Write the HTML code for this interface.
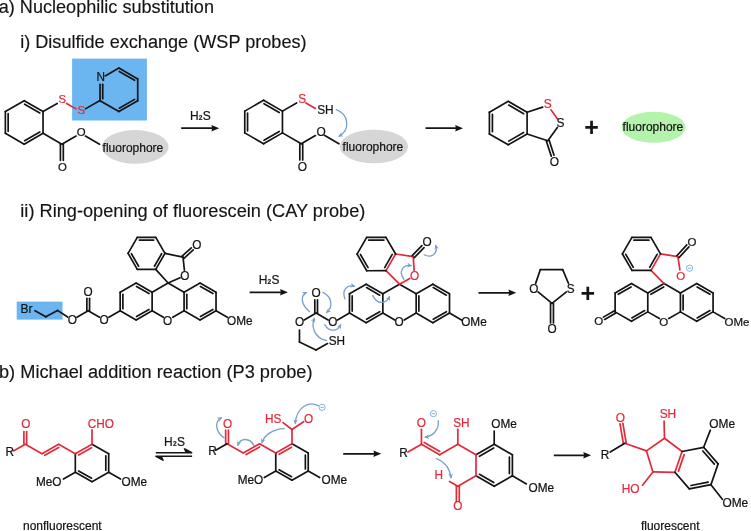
<!DOCTYPE html>
<html lang="en">
<head>
<meta charset="utf-8">
<title>H2S fluorescent probe reaction mechanisms</title>
<style>
html,body{margin:0;padding:0;background:#fff;}
body{width:751px;height:531px;overflow:hidden;font-family:"Liberation Sans",Arial,Helvetica,sans-serif;}
svg{display:block;will-change:transform;}
text{white-space:pre;}
</style>
</head>
<body>
<svg width="751" height="531" viewBox="0 0 751 531" font-family="'Liberation Sans', Arial, Helvetica, sans-serif">
<text transform="translate(-1.3 13.4) scale(1 1.01)" font-size="18.1" fill="#141414" stroke="#141414" stroke-width="0.15">a) Nucleophilic substitution</text>
<text transform="translate(20.2 48.1) scale(1 1.01)" font-size="18.1" fill="#141414" stroke="#141414" stroke-width="0.15">i) Disulfide exchange (WSP probes)</text>
<text transform="translate(20.3 216.8) scale(1 1.01)" font-size="18.2" fill="#141414" stroke="#141414" stroke-width="0.15">ii) Ring-opening of fluorescein (CAY probe)</text>
<text transform="translate(-1 377.5) scale(1 1.01)" font-size="18.2" fill="#141414" stroke="#141414" stroke-width="0.15">b) Michael addition reaction (P3 probe)</text>
<rect x="72.1" y="58.6" width="74.8" height="61.9" fill="#6bb6f1"/>
<ellipse cx="135.2" cy="146.9" rx="33.4" ry="16.8" fill="#d6d6d6"/>
<ellipse cx="374" cy="146.5" rx="34" ry="16.8" fill="#d6d6d6"/>
<ellipse cx="653.6" cy="127.3" rx="32" ry="15.5" fill="#b4f3ac"/>
<line x1="24.2" y1="100.7" x2="5.36" y2="111.58" stroke="#141414" stroke-width="1.7" stroke-linecap="round"/>
<line x1="43.04" y1="111.58" x2="43.04" y2="133.32" stroke="#141414" stroke-width="1.7" stroke-linecap="round"/>
<line x1="24.2" y1="144.2" x2="5.36" y2="133.32" stroke="#141414" stroke-width="1.7" stroke-linecap="round"/>
<line x1="24.2" y1="100.7" x2="43.04" y2="111.58" stroke="#141414" stroke-width="1.7" stroke-linecap="round"/>
<line x1="24.62" y1="104.17" x2="39.82" y2="112.95" stroke="#141414" stroke-width="1.7" stroke-linecap="round"/>
<line x1="43.04" y1="133.32" x2="24.2" y2="144.2" stroke="#141414" stroke-width="1.7" stroke-linecap="round"/>
<line x1="39.82" y1="131.95" x2="24.62" y2="140.73" stroke="#141414" stroke-width="1.7" stroke-linecap="round"/>
<line x1="5.36" y1="133.32" x2="5.36" y2="111.58" stroke="#141414" stroke-width="1.7" stroke-linecap="round"/>
<line x1="8.16" y1="131.22" x2="8.16" y2="113.67" stroke="#141414" stroke-width="1.7" stroke-linecap="round"/>
<line x1="43.04" y1="133.32" x2="61.87" y2="144.2" stroke="#141414" stroke-width="1.7" stroke-linecap="round"/>
<line x1="61.87" y1="144.2" x2="76.03" y2="136.02" stroke="#141414" stroke-width="1.7" stroke-linecap="round"/>
<line x1="60.42" y1="144.2" x2="60.42" y2="160.35" stroke="#141414" stroke-width="1.7" stroke-linecap="round"/>
<line x1="63.32" y1="144.2" x2="63.32" y2="160.35" stroke="#141414" stroke-width="1.7" stroke-linecap="round"/>
<line x1="85.38" y1="136.02" x2="99.54" y2="144.2" stroke="#141414" stroke-width="1.7" stroke-linecap="round"/>
<text transform="translate(76.77 135.99) scale(1 1.01)" font-size="11.4" fill="#141414" stroke="#141414" stroke-width="0.22">O</text>
<text transform="translate(57.94 171.42) scale(1 1.01)" font-size="11.4" fill="#141414" stroke="#141414" stroke-width="0.22">O</text>
<line x1="43.04" y1="111.58" x2="57.2" y2="103.4" stroke="#141414" stroke-width="1.7" stroke-linecap="round"/>
<line x1="66.55" y1="103.4" x2="76.03" y2="108.88" stroke="#e22a3a" stroke-width="1.7" stroke-linecap="round"/>
<line x1="85.38" y1="108.88" x2="99.54" y2="100.7" stroke="#141414" stroke-width="1.7" stroke-linecap="round"/>
<text transform="translate(58.57 103.37) scale(1 1.01)" font-size="11.4" fill="#e22a3a" stroke="#e22a3a" stroke-width="0.22">S</text>
<text transform="translate(77.41 114.24) scale(1 1.01)" font-size="11.4" fill="#e22a3a" stroke="#e22a3a" stroke-width="0.22">S</text>
<line x1="100.04" y1="84.35" x2="100.04" y2="100.7" stroke="#141414" stroke-width="1.7" stroke-linecap="round"/>
<line x1="102.74" y1="84.35" x2="102.74" y2="98.67" stroke="#141414" stroke-width="1.7" stroke-linecap="round"/>
<line x1="105.24" y1="75.95" x2="118.88" y2="68.08" stroke="#141414" stroke-width="1.7" stroke-linecap="round"/>
<line x1="118.88" y1="68.08" x2="137.72" y2="78.95" stroke="#141414" stroke-width="1.7" stroke-linecap="round"/>
<line x1="119.28" y1="71.43" x2="134.61" y2="80.28" stroke="#141414" stroke-width="1.7" stroke-linecap="round"/>
<line x1="137.72" y1="78.95" x2="137.72" y2="100.7" stroke="#141414" stroke-width="1.7" stroke-linecap="round"/>
<line x1="137.72" y1="100.7" x2="118.88" y2="111.58" stroke="#141414" stroke-width="1.7" stroke-linecap="round"/>
<line x1="134.61" y1="99.37" x2="119.28" y2="108.22" stroke="#141414" stroke-width="1.7" stroke-linecap="round"/>
<line x1="118.88" y1="111.58" x2="100.04" y2="100.7" stroke="#141414" stroke-width="1.7" stroke-linecap="round"/>
<text transform="translate(96.48 80.76) scale(1 1.01)" font-size="11.8" fill="#141414" stroke="#141414" stroke-width="0.22">N</text>
<text transform="translate(102.6 151.5) scale(1 1.01)" font-size="12" fill="#141414" stroke="#141414" stroke-width="0.22">fluorophore</text>
<line x1="181.2" y1="128.2" x2="214.52" y2="128.2" stroke="#141414" stroke-width="1.8"/>
<path d="M219.2 128.2 L211.4 125 L212.18 128.2 L211.4 131.4 Z" fill="#141414"/>
<text transform="translate(190 119.5) scale(1 1.01)" font-size="12" fill="#141414" stroke="#141414" stroke-width="0.22">H<tspan font-size="6.6" font-weight="bold" dx="0.2" dy="0.2">2</tspan><tspan dx="0.3" dy="-0.2">S</tspan></text>
<line x1="263.6" y1="100.25" x2="244.76" y2="111.12" stroke="#141414" stroke-width="1.7" stroke-linecap="round"/>
<line x1="282.44" y1="111.12" x2="282.44" y2="132.88" stroke="#141414" stroke-width="1.7" stroke-linecap="round"/>
<line x1="263.6" y1="143.75" x2="244.76" y2="132.88" stroke="#141414" stroke-width="1.7" stroke-linecap="round"/>
<line x1="263.6" y1="100.25" x2="282.44" y2="111.12" stroke="#141414" stroke-width="1.7" stroke-linecap="round"/>
<line x1="264.02" y1="103.72" x2="279.22" y2="112.5" stroke="#141414" stroke-width="1.7" stroke-linecap="round"/>
<line x1="282.44" y1="132.88" x2="263.6" y2="143.75" stroke="#141414" stroke-width="1.7" stroke-linecap="round"/>
<line x1="279.22" y1="131.5" x2="264.02" y2="140.28" stroke="#141414" stroke-width="1.7" stroke-linecap="round"/>
<line x1="244.76" y1="132.88" x2="244.76" y2="111.12" stroke="#141414" stroke-width="1.7" stroke-linecap="round"/>
<line x1="247.56" y1="130.78" x2="247.56" y2="113.22" stroke="#141414" stroke-width="1.7" stroke-linecap="round"/>
<line x1="282.44" y1="132.88" x2="301.27" y2="143.75" stroke="#141414" stroke-width="1.7" stroke-linecap="round"/>
<line x1="301.27" y1="143.75" x2="315.43" y2="135.57" stroke="#141414" stroke-width="1.7" stroke-linecap="round"/>
<line x1="299.82" y1="143.75" x2="299.82" y2="159.9" stroke="#141414" stroke-width="1.7" stroke-linecap="round"/>
<line x1="302.72" y1="143.75" x2="302.72" y2="159.9" stroke="#141414" stroke-width="1.7" stroke-linecap="round"/>
<line x1="324.78" y1="135.57" x2="338.94" y2="143.75" stroke="#141414" stroke-width="1.7" stroke-linecap="round"/>
<text transform="translate(316.48 135.62) scale(1 1.01)" font-size="11.9" fill="#141414" stroke="#141414" stroke-width="0.22">O</text>
<text transform="translate(297.64 171.04) scale(1 1.01)" font-size="11.9" fill="#141414" stroke="#141414" stroke-width="0.22">O</text>
<line x1="282.44" y1="111.12" x2="296.6" y2="102.95" stroke="#141414" stroke-width="1.7" stroke-linecap="round"/>
<line x1="305.95" y1="102.95" x2="315.43" y2="108.42" stroke="#e22a3a" stroke-width="1.7" stroke-linecap="round"/>
<text transform="translate(298.3 102.99) scale(1 1.01)" font-size="11.9" fill="#e22a3a" stroke="#e22a3a" stroke-width="0.22">S</text>
<text transform="translate(317.14 113.87) scale(1 1.01)" font-size="11.9" fill="#141414" stroke="#141414" stroke-width="0.22">SH</text>
<text transform="translate(342.6 151.3) scale(1 1.01)" font-size="12" fill="#141414" stroke="#141414" stroke-width="0.22">fluorophore</text>
<path d="M336.2 109.6 C349.5 114.5 350 130 339.2 136.2" fill="none" stroke="#7a9fca" stroke-width="1.3" stroke-linecap="round"/>
<path d="M338.16 136.8 L341.35 132.31 L341.19 135.05 L343.64 136.3 Z" fill="#7a9fca"/>
<line x1="425.5" y1="128.2" x2="458.32" y2="128.2" stroke="#141414" stroke-width="1.8"/>
<path d="M463 128.2 L455.2 125 L455.98 128.2 L455.2 131.4 Z" fill="#141414"/>
<line x1="508.25" y1="101.35" x2="489.41" y2="112.22" stroke="#141414" stroke-width="1.7" stroke-linecap="round"/>
<line x1="527.09" y1="112.22" x2="527.09" y2="133.97" stroke="#141414" stroke-width="1.7" stroke-linecap="round"/>
<line x1="508.25" y1="144.85" x2="489.41" y2="133.97" stroke="#141414" stroke-width="1.7" stroke-linecap="round"/>
<line x1="508.25" y1="101.35" x2="527.09" y2="112.22" stroke="#141414" stroke-width="1.7" stroke-linecap="round"/>
<line x1="508.7" y1="105.07" x2="523.64" y2="113.7" stroke="#141414" stroke-width="1.7" stroke-linecap="round"/>
<line x1="527.09" y1="133.97" x2="508.25" y2="144.85" stroke="#141414" stroke-width="1.7" stroke-linecap="round"/>
<line x1="523.64" y1="132.5" x2="508.7" y2="141.13" stroke="#141414" stroke-width="1.7" stroke-linecap="round"/>
<line x1="489.41" y1="133.97" x2="489.41" y2="112.22" stroke="#141414" stroke-width="1.7" stroke-linecap="round"/>
<line x1="492.41" y1="131.72" x2="492.41" y2="114.47" stroke="#141414" stroke-width="1.7" stroke-linecap="round"/>
<line x1="527.09" y1="133.97" x2="547.77" y2="140.7" stroke="#141414" stroke-width="1.7" stroke-linecap="round"/>
<line x1="547.77" y1="140.7" x2="557.38" y2="127.47" stroke="#141414" stroke-width="1.7" stroke-linecap="round"/>
<line x1="557.38" y1="118.73" x2="550.95" y2="109.87" stroke="#e22a3a" stroke-width="1.7" stroke-linecap="round"/>
<line x1="542.64" y1="107.17" x2="527.09" y2="112.22" stroke="#141414" stroke-width="1.7" stroke-linecap="round"/>
<line x1="546.39" y1="141.14" x2="551.26" y2="156.12" stroke="#141414" stroke-width="1.7" stroke-linecap="round"/>
<line x1="549.15" y1="140.25" x2="554.02" y2="155.23" stroke="#141414" stroke-width="1.7" stroke-linecap="round"/>
<text transform="translate(543.8 108.05) scale(1 1.01)" font-size="11.9" fill="#e22a3a" stroke="#e22a3a" stroke-width="0.22">S</text>
<text transform="translate(556.59 127.24) scale(1 1.01)" font-size="11.9" fill="#141414" stroke="#141414" stroke-width="0.22">S</text>
<text transform="translate(549.86 166.02) scale(1 1.01)" font-size="11.9" fill="#141414" stroke="#141414" stroke-width="0.22">O</text>
<text transform="translate(591.5 135.5) scale(1 1)" font-size="25" fill="#141414" text-anchor="middle" font-weight="bold">+</text>
<text transform="translate(622.6 131) scale(1 1.01)" font-size="12" fill="#141414" stroke="#141414" stroke-width="0.22">fluorophore</text>
<rect x="16.7" y="301.6" width="45.8" height="18" fill="#6bb6f1"/>
<line x1="168.1" y1="283.05" x2="184.08" y2="292.27" stroke="#141414" stroke-width="1.7" stroke-linecap="round"/>
<line x1="184.08" y1="310.73" x2="172.78" y2="317.25" stroke="#141414" stroke-width="1.7" stroke-linecap="round"/>
<line x1="163.42" y1="317.25" x2="152.12" y2="310.73" stroke="#141414" stroke-width="1.7" stroke-linecap="round"/>
<line x1="152.12" y1="292.27" x2="168.1" y2="283.05" stroke="#141414" stroke-width="1.7" stroke-linecap="round"/>
<line x1="200.06" y1="283.05" x2="216.03" y2="292.27" stroke="#141414" stroke-width="1.7" stroke-linecap="round"/>
<line x1="200.46" y1="286.4" x2="212.93" y2="293.6" stroke="#141414" stroke-width="1.7" stroke-linecap="round"/>
<line x1="216.03" y1="292.27" x2="216.03" y2="310.73" stroke="#141414" stroke-width="1.7" stroke-linecap="round"/>
<line x1="216.03" y1="310.73" x2="200.06" y2="319.95" stroke="#141414" stroke-width="1.7" stroke-linecap="round"/>
<line x1="212.93" y1="309.4" x2="200.46" y2="316.6" stroke="#141414" stroke-width="1.7" stroke-linecap="round"/>
<line x1="200.06" y1="319.95" x2="184.08" y2="310.73" stroke="#141414" stroke-width="1.7" stroke-linecap="round"/>
<line x1="184.08" y1="310.73" x2="184.08" y2="292.27" stroke="#141414" stroke-width="1.7" stroke-linecap="round"/>
<line x1="186.78" y1="308.7" x2="186.78" y2="294.3" stroke="#141414" stroke-width="1.7" stroke-linecap="round"/>
<line x1="184.08" y1="292.27" x2="200.06" y2="283.05" stroke="#141414" stroke-width="1.7" stroke-linecap="round"/>
<line x1="136.14" y1="283.05" x2="152.12" y2="292.27" stroke="#141414" stroke-width="1.7" stroke-linecap="round"/>
<line x1="136.55" y1="286.4" x2="149.02" y2="293.6" stroke="#141414" stroke-width="1.7" stroke-linecap="round"/>
<line x1="152.12" y1="292.27" x2="152.12" y2="310.73" stroke="#141414" stroke-width="1.7" stroke-linecap="round"/>
<line x1="152.12" y1="310.73" x2="136.14" y2="319.95" stroke="#141414" stroke-width="1.7" stroke-linecap="round"/>
<line x1="149.02" y1="309.4" x2="136.55" y2="316.6" stroke="#141414" stroke-width="1.7" stroke-linecap="round"/>
<line x1="136.14" y1="319.95" x2="120.17" y2="310.73" stroke="#141414" stroke-width="1.7" stroke-linecap="round"/>
<line x1="120.17" y1="310.73" x2="120.17" y2="292.27" stroke="#141414" stroke-width="1.7" stroke-linecap="round"/>
<line x1="122.87" y1="308.7" x2="122.87" y2="294.3" stroke="#141414" stroke-width="1.7" stroke-linecap="round"/>
<line x1="120.17" y1="292.27" x2="136.14" y2="283.05" stroke="#141414" stroke-width="1.7" stroke-linecap="round"/>
<text transform="translate(163.11 325.16) scale(1 1.01)" font-size="11.8" fill="#141414" stroke="#141414" stroke-width="0.22">O</text>
<line x1="216.03" y1="310.73" x2="227.34" y2="317.25" stroke="#141414" stroke-width="1.7" stroke-linecap="round"/>
<text transform="translate(227.02 325.16) scale(1 1.01)" font-size="11.8" fill="#141414" stroke="#141414" stroke-width="0.22">OMe</text>
<line x1="168.1" y1="283.05" x2="180.02" y2="277.74" stroke="#141414" stroke-width="1.7" stroke-linecap="round"/>
<line x1="184.39" y1="270.18" x2="183.03" y2="257.2" stroke="#141414" stroke-width="1.7" stroke-linecap="round"/>
<line x1="183.03" y1="257.2" x2="164.98" y2="253.36" stroke="#141414" stroke-width="1.7" stroke-linecap="round"/>
<line x1="155.75" y1="269.34" x2="168.1" y2="283.05" stroke="#141414" stroke-width="1.7" stroke-linecap="round"/>
<line x1="184" y1="258.27" x2="193.25" y2="249.94" stroke="#141414" stroke-width="1.7" stroke-linecap="round"/>
<line x1="182.06" y1="256.12" x2="191.31" y2="247.79" stroke="#141414" stroke-width="1.7" stroke-linecap="round"/>
<text transform="translate(192.15 248.96) scale(1 1.01)" font-size="11.8" fill="#141414" stroke="#141414" stroke-width="0.22">O</text>
<text transform="translate(180.36 279.65) scale(1 1.01)" font-size="11.8" fill="#141414" stroke="#141414" stroke-width="0.22">O</text>
<line x1="164.98" y1="253.36" x2="155.75" y2="269.34" stroke="#141414" stroke-width="1.7" stroke-linecap="round"/>
<line x1="161.63" y1="253.76" x2="154.43" y2="266.24" stroke="#141414" stroke-width="1.7" stroke-linecap="round"/>
<line x1="155.75" y1="269.34" x2="137.3" y2="269.34" stroke="#141414" stroke-width="1.7" stroke-linecap="round"/>
<line x1="137.3" y1="269.34" x2="128.08" y2="253.36" stroke="#141414" stroke-width="1.7" stroke-linecap="round"/>
<line x1="138.63" y1="266.24" x2="131.43" y2="253.76" stroke="#141414" stroke-width="1.7" stroke-linecap="round"/>
<line x1="128.08" y1="253.36" x2="137.3" y2="237.38" stroke="#141414" stroke-width="1.7" stroke-linecap="round"/>
<line x1="137.3" y1="237.38" x2="155.75" y2="237.38" stroke="#141414" stroke-width="1.7" stroke-linecap="round"/>
<line x1="139.33" y1="240.08" x2="153.73" y2="240.08" stroke="#141414" stroke-width="1.7" stroke-linecap="round"/>
<line x1="155.75" y1="237.38" x2="164.98" y2="253.36" stroke="#141414" stroke-width="1.7" stroke-linecap="round"/>
<line x1="120.17" y1="310.73" x2="108.86" y2="317.25" stroke="#141414" stroke-width="1.7" stroke-linecap="round"/>
<line x1="99.51" y1="317.25" x2="88.21" y2="310.73" stroke="#141414" stroke-width="1.7" stroke-linecap="round"/>
<line x1="89.56" y1="310.73" x2="89.56" y2="298.28" stroke="#141414" stroke-width="1.7" stroke-linecap="round"/>
<line x1="86.86" y1="310.73" x2="86.86" y2="298.28" stroke="#141414" stroke-width="1.7" stroke-linecap="round"/>
<line x1="88.21" y1="310.73" x2="76.91" y2="317.25" stroke="#141414" stroke-width="1.7" stroke-linecap="round"/>
<text transform="translate(99.6 324.06) scale(1 1.01)" font-size="11.8" fill="#141414" stroke="#141414" stroke-width="0.22">O</text>
<text transform="translate(83.62 296.38) scale(1 1.01)" font-size="11.8" fill="#141414" stroke="#141414" stroke-width="0.22">O</text>
<text transform="translate(67.64 324.06) scale(1 1.01)" font-size="11.8" fill="#141414" stroke="#141414" stroke-width="0.22">O</text>
<line x1="67.7" y1="317.01" x2="57.5" y2="310.4" stroke="#141414" stroke-width="1.7" stroke-linecap="round"/>
<line x1="57.5" y1="310.4" x2="45.8" y2="316.8" stroke="#141414" stroke-width="1.7" stroke-linecap="round"/>
<line x1="45.8" y1="316.8" x2="35" y2="310.7" stroke="#141414" stroke-width="1.7" stroke-linecap="round"/>
<text transform="translate(20.6 313.2) scale(1 1.01)" font-size="12" fill="#141414" stroke="#141414" stroke-width="0.22">Br</text>
<line x1="249.6" y1="292.3" x2="283.22" y2="292.3" stroke="#141414" stroke-width="1.8"/>
<path d="M287.9 292.3 L280.1 289.1 L280.88 292.3 L280.1 295.5 Z" fill="#141414"/>
<text transform="translate(258.7 283.6) scale(1 1.01)" font-size="12" fill="#141414" stroke="#141414" stroke-width="0.22">H<tspan font-size="6.6" font-weight="bold" dx="0.2" dy="0.2">2</tspan><tspan dx="0.3" dy="-0.2">S</tspan></text>
<line x1="399.5" y1="284.2" x2="416.17" y2="293.82" stroke="#141414" stroke-width="1.7" stroke-linecap="round"/>
<line x1="416.17" y1="313.07" x2="404.18" y2="320" stroke="#141414" stroke-width="1.7" stroke-linecap="round"/>
<line x1="394.82" y1="320" x2="382.83" y2="313.07" stroke="#141414" stroke-width="1.7" stroke-linecap="round"/>
<line x1="382.83" y1="293.82" x2="399.5" y2="284.2" stroke="#141414" stroke-width="1.7" stroke-linecap="round"/>
<line x1="432.84" y1="284.2" x2="449.51" y2="293.82" stroke="#141414" stroke-width="1.7" stroke-linecap="round"/>
<line x1="433.25" y1="287.55" x2="446.41" y2="295.15" stroke="#141414" stroke-width="1.7" stroke-linecap="round"/>
<line x1="449.51" y1="293.82" x2="449.51" y2="313.07" stroke="#141414" stroke-width="1.7" stroke-linecap="round"/>
<line x1="449.51" y1="313.07" x2="432.84" y2="322.7" stroke="#141414" stroke-width="1.7" stroke-linecap="round"/>
<line x1="446.41" y1="311.75" x2="433.25" y2="319.35" stroke="#141414" stroke-width="1.7" stroke-linecap="round"/>
<line x1="432.84" y1="322.7" x2="416.17" y2="313.07" stroke="#141414" stroke-width="1.7" stroke-linecap="round"/>
<line x1="416.17" y1="313.07" x2="416.17" y2="293.82" stroke="#141414" stroke-width="1.7" stroke-linecap="round"/>
<line x1="418.87" y1="311.05" x2="418.87" y2="295.85" stroke="#141414" stroke-width="1.7" stroke-linecap="round"/>
<line x1="416.17" y1="293.82" x2="432.84" y2="284.2" stroke="#141414" stroke-width="1.7" stroke-linecap="round"/>
<line x1="366.16" y1="284.2" x2="382.83" y2="293.82" stroke="#141414" stroke-width="1.7" stroke-linecap="round"/>
<line x1="366.56" y1="287.55" x2="379.73" y2="295.15" stroke="#141414" stroke-width="1.7" stroke-linecap="round"/>
<line x1="382.83" y1="293.82" x2="382.83" y2="313.07" stroke="#141414" stroke-width="1.7" stroke-linecap="round"/>
<line x1="382.83" y1="313.07" x2="366.16" y2="322.7" stroke="#141414" stroke-width="1.7" stroke-linecap="round"/>
<line x1="379.73" y1="311.75" x2="366.56" y2="319.35" stroke="#141414" stroke-width="1.7" stroke-linecap="round"/>
<line x1="366.16" y1="322.7" x2="349.49" y2="313.07" stroke="#141414" stroke-width="1.7" stroke-linecap="round"/>
<line x1="349.49" y1="313.07" x2="349.49" y2="293.82" stroke="#141414" stroke-width="1.7" stroke-linecap="round"/>
<line x1="352.19" y1="311.05" x2="352.19" y2="295.85" stroke="#141414" stroke-width="1.7" stroke-linecap="round"/>
<line x1="349.49" y1="293.82" x2="366.16" y2="284.2" stroke="#141414" stroke-width="1.7" stroke-linecap="round"/>
<text transform="translate(394.51 326.01) scale(1 1.01)" font-size="11.8" fill="#141414" stroke="#141414" stroke-width="0.22">O</text>
<line x1="449.51" y1="313.07" x2="461.51" y2="320" stroke="#141414" stroke-width="1.7" stroke-linecap="round"/>
<text transform="translate(461.19 326.01) scale(1 1.01)" font-size="11.8" fill="#141414" stroke="#141414" stroke-width="0.22">OMe</text>
<line x1="399.5" y1="284.2" x2="409.79" y2="278.44" stroke="#e22a3a" stroke-width="1.7" stroke-linecap="round"/>
<line x1="414.15" y1="270.41" x2="413.25" y2="256.7" stroke="#e22a3a" stroke-width="1.7" stroke-linecap="round"/>
<line x1="413.25" y1="256.7" x2="395.6" y2="254" stroke="#e22a3a" stroke-width="1.7" stroke-linecap="round"/>
<line x1="386" y1="270.7" x2="399.5" y2="284.2" stroke="#e22a3a" stroke-width="1.7" stroke-linecap="round"/>
<line x1="414.3" y1="257.7" x2="424" y2="247.54" stroke="#141414" stroke-width="1.7" stroke-linecap="round"/>
<line x1="412.2" y1="255.7" x2="421.91" y2="245.54" stroke="#141414" stroke-width="1.7" stroke-linecap="round"/>
<text transform="translate(422.51 246.31) scale(1 1.01)" font-size="11.8" fill="#141414" stroke="#141414" stroke-width="0.22">O</text>
<text transform="translate(409.91 279.91) scale(1 1.01)" font-size="11.8" fill="#e22a3a" stroke="#e22a3a" stroke-width="0.22">O</text>
<line x1="395.6" y1="254" x2="386" y2="270.7" stroke="#e22a3a" stroke-width="1.7" stroke-linecap="round"/>
<line x1="392.25" y1="254.41" x2="384.67" y2="267.6" stroke="#141414" stroke-width="1.7" stroke-linecap="round"/>
<line x1="386" y1="270.7" x2="366.74" y2="270.74" stroke="#141414" stroke-width="1.7" stroke-linecap="round"/>
<line x1="366.74" y1="270.74" x2="357.07" y2="254.07" stroke="#141414" stroke-width="1.7" stroke-linecap="round"/>
<line x1="368.06" y1="267.63" x2="360.43" y2="254.47" stroke="#141414" stroke-width="1.7" stroke-linecap="round"/>
<line x1="357.07" y1="254.07" x2="366.67" y2="237.37" stroke="#141414" stroke-width="1.7" stroke-linecap="round"/>
<line x1="366.67" y1="237.37" x2="385.94" y2="237.34" stroke="#141414" stroke-width="1.7" stroke-linecap="round"/>
<line x1="368.7" y1="240.07" x2="383.92" y2="240.04" stroke="#141414" stroke-width="1.7" stroke-linecap="round"/>
<line x1="385.94" y1="237.34" x2="395.6" y2="254" stroke="#141414" stroke-width="1.7" stroke-linecap="round"/>
<line x1="349.49" y1="313.07" x2="337.49" y2="320" stroke="#141414" stroke-width="1.7" stroke-linecap="round"/>
<line x1="328.14" y1="320" x2="316.15" y2="313.07" stroke="#141414" stroke-width="1.7" stroke-linecap="round"/>
<line x1="317.5" y1="313.07" x2="317.5" y2="299.82" stroke="#141414" stroke-width="1.7" stroke-linecap="round"/>
<line x1="314.8" y1="313.07" x2="314.8" y2="299.82" stroke="#141414" stroke-width="1.7" stroke-linecap="round"/>
<line x1="316.15" y1="313.07" x2="304.15" y2="320" stroke="#141414" stroke-width="1.7" stroke-linecap="round"/>
<text transform="translate(328.23 325.71) scale(1 1.01)" font-size="11.8" fill="#141414" stroke="#141414" stroke-width="0.22">O</text>
<text transform="translate(311.55 296.83) scale(1 1.01)" font-size="11.8" fill="#141414" stroke="#141414" stroke-width="0.22">O</text>
<text transform="translate(294.88 325.71) scale(1 1.01)" font-size="11.8" fill="#141414" stroke="#141414" stroke-width="0.22">O</text>
<line x1="299.47" y1="330.1" x2="299.47" y2="341.95" stroke="#141414" stroke-width="1.7" stroke-linecap="round"/>
<line x1="299.47" y1="341.95" x2="316" y2="350" stroke="#141414" stroke-width="1.7" stroke-linecap="round"/>
<line x1="316" y1="350" x2="327.52" y2="343.53" stroke="#141414" stroke-width="1.7" stroke-linecap="round"/>
<text transform="translate(328.76 345.01) scale(1 1.01)" font-size="11.8" fill="#141414" stroke="#141414" stroke-width="0.22">SH</text>
<path d="M309.5 311.5 C300 304 301 295 306.2 292.6" fill="none" stroke="#7a9fca" stroke-width="1.3" stroke-linecap="round"/>
<path d="M307.29 292.1 L303.71 296.28 L304.11 293.56 L301.79 292.1 Z" fill="#7a9fca"/>
<path d="M322.9 292.3 C332.5 297 333 307 326.8 312.2" fill="none" stroke="#7a9fca" stroke-width="1.3" stroke-linecap="round"/>
<path d="M325.88 312.97 L328.23 308 L328.56 310.72 L331.19 311.52 Z" fill="#7a9fca"/>
<path d="M324.8 324.6 C329 332 337 332 340.6 325" fill="none" stroke="#7a9fca" stroke-width="1.3" stroke-linecap="round"/>
<path d="M341.15 323.93 L340.91 329.43 L339.55 327.05 L336.82 327.33 Z" fill="#7a9fca"/>
<path d="M326.6 340.6 C314 338 311 326 314.4 318.5" fill="none" stroke="#7a9fca" stroke-width="1.3" stroke-linecap="round"/>
<path d="M314.9 317.41 L314.93 322.91 L313.45 320.59 L310.74 321.01 Z" fill="#7a9fca"/>
<path d="M345 299 C341.5 290 347 284.5 354.2 286.2" fill="none" stroke="#7a9fca" stroke-width="1.3" stroke-linecap="round"/>
<path d="M355.37 286.48 L349.97 287.57 L351.96 285.67 L351.03 283.09 Z" fill="#7a9fca"/>
<path d="M372.8 295.6 C377 304.5 386 304.5 389.4 296.8" fill="none" stroke="#7a9fca" stroke-width="1.3" stroke-linecap="round"/>
<path d="M389.88 295.7 L389.97 301.21 L388.47 298.9 L385.76 299.35 Z" fill="#7a9fca"/>
<path d="M424.2 254.8 C431 258.5 438 254 435.8 245.6" fill="none" stroke="#7a9fca" stroke-width="1.3" stroke-linecap="round"/>
<path d="M435.5 244.44 L438.99 248.69 L436.38 247.82 L434.54 249.86 Z" fill="#7a9fca"/>
<path d="M403.9 279.3 C398.5 272 402.5 264.5 411 265.6" fill="none" stroke="#7a9fca" stroke-width="1.3" stroke-linecap="round"/>
<path d="M412.19 265.75 L406.94 267.39 L408.72 265.3 L407.53 262.83 Z" fill="#7a9fca"/>
<line x1="478.5" y1="292.8" x2="511.52" y2="292.8" stroke="#141414" stroke-width="1.8"/>
<path d="M516.2 292.8 L508.4 289.6 L509.18 292.8 L508.4 296 Z" fill="#141414"/>
<line x1="535.64" y1="283.39" x2="540.3" y2="269.7" stroke="#141414" stroke-width="1.7" stroke-linecap="round"/>
<line x1="540.3" y1="269.7" x2="562.7" y2="269.7" stroke="#141414" stroke-width="1.7" stroke-linecap="round"/>
<line x1="562.7" y1="269.7" x2="568.51" y2="283.52" stroke="#141414" stroke-width="1.7" stroke-linecap="round"/>
<line x1="566.39" y1="291.88" x2="552" y2="303.4" stroke="#141414" stroke-width="1.7" stroke-linecap="round"/>
<line x1="552" y1="303.4" x2="538.07" y2="291.93" stroke="#141414" stroke-width="1.7" stroke-linecap="round"/>
<line x1="550.55" y1="303.4" x2="550.55" y2="323" stroke="#141414" stroke-width="1.7" stroke-linecap="round"/>
<line x1="553.45" y1="303.4" x2="553.45" y2="323" stroke="#141414" stroke-width="1.7" stroke-linecap="round"/>
<text transform="translate(529.31 292.81) scale(1 1.01)" font-size="11.8" fill="#141414" stroke="#141414" stroke-width="0.22">O</text>
<text transform="translate(566.66 292.81) scale(1 1.01)" font-size="11.8" fill="#141414" stroke="#141414" stroke-width="0.22">S</text>
<text transform="translate(547.41 333.31) scale(1 1.01)" font-size="11.8" fill="#141414" stroke="#141414" stroke-width="0.22">O</text>
<text transform="translate(587.8 301.7) scale(1 1)" font-size="25" fill="#141414" text-anchor="middle" font-weight="bold">+</text>
<line x1="664.1" y1="283.6" x2="680.42" y2="293.02" stroke="#141414" stroke-width="1.7" stroke-linecap="round"/>
<line x1="680.42" y1="311.88" x2="668.78" y2="318.6" stroke="#141414" stroke-width="1.7" stroke-linecap="round"/>
<line x1="659.42" y1="318.6" x2="647.78" y2="311.88" stroke="#141414" stroke-width="1.7" stroke-linecap="round"/>
<line x1="696.75" y1="283.6" x2="713.07" y2="293.02" stroke="#141414" stroke-width="1.7" stroke-linecap="round"/>
<line x1="697.15" y1="286.95" x2="709.97" y2="294.35" stroke="#141414" stroke-width="1.7" stroke-linecap="round"/>
<line x1="713.07" y1="293.02" x2="713.07" y2="311.88" stroke="#141414" stroke-width="1.7" stroke-linecap="round"/>
<line x1="713.07" y1="311.88" x2="696.75" y2="321.3" stroke="#141414" stroke-width="1.7" stroke-linecap="round"/>
<line x1="709.97" y1="310.55" x2="697.15" y2="317.95" stroke="#141414" stroke-width="1.7" stroke-linecap="round"/>
<line x1="696.75" y1="321.3" x2="680.42" y2="311.88" stroke="#141414" stroke-width="1.7" stroke-linecap="round"/>
<line x1="680.42" y1="311.88" x2="680.42" y2="293.02" stroke="#141414" stroke-width="1.7" stroke-linecap="round"/>
<line x1="683.12" y1="309.85" x2="683.12" y2="295.05" stroke="#141414" stroke-width="1.7" stroke-linecap="round"/>
<line x1="680.42" y1="293.02" x2="696.75" y2="283.6" stroke="#141414" stroke-width="1.7" stroke-linecap="round"/>
<line x1="647.78" y1="293.02" x2="664.1" y2="283.6" stroke="#141414" stroke-width="1.7" stroke-linecap="round"/>
<line x1="650.88" y1="294.35" x2="663.7" y2="286.95" stroke="#141414" stroke-width="1.7" stroke-linecap="round"/>
<line x1="631.45" y1="283.6" x2="647.78" y2="293.02" stroke="#141414" stroke-width="1.7" stroke-linecap="round"/>
<line x1="647.78" y1="293.02" x2="647.78" y2="311.88" stroke="#141414" stroke-width="1.7" stroke-linecap="round"/>
<line x1="647.78" y1="311.88" x2="631.45" y2="321.3" stroke="#141414" stroke-width="1.7" stroke-linecap="round"/>
<line x1="644.67" y1="310.55" x2="631.85" y2="317.95" stroke="#141414" stroke-width="1.7" stroke-linecap="round"/>
<line x1="631.45" y1="321.3" x2="615.13" y2="311.88" stroke="#141414" stroke-width="1.7" stroke-linecap="round"/>
<line x1="615.13" y1="311.88" x2="615.13" y2="293.02" stroke="#141414" stroke-width="1.7" stroke-linecap="round"/>
<line x1="615.13" y1="293.02" x2="631.45" y2="283.6" stroke="#141414" stroke-width="1.7" stroke-linecap="round"/>
<line x1="618.23" y1="294.35" x2="631.05" y2="286.95" stroke="#141414" stroke-width="1.7" stroke-linecap="round"/>
<line x1="614.45" y1="310.71" x2="603.32" y2="317.13" stroke="#141414" stroke-width="1.7" stroke-linecap="round"/>
<line x1="615.8" y1="313.04" x2="604.67" y2="319.47" stroke="#141414" stroke-width="1.7" stroke-linecap="round"/>
<text transform="translate(594.33 325.3) scale(1 1.01)" font-size="11.5" fill="#141414" stroke="#141414" stroke-width="0.22">O</text>
<text transform="translate(659.23 325.5) scale(1 1.01)" font-size="11.5" fill="#141414" stroke="#141414" stroke-width="0.22">O</text>
<line x1="713.07" y1="311.88" x2="724.72" y2="318.6" stroke="#141414" stroke-width="1.7" stroke-linecap="round"/>
<text transform="translate(724.52 325.5) scale(1 1.01)" font-size="11.5" fill="#141414" stroke="#141414" stroke-width="0.22">OMe</text>
<line x1="679.89" y1="269.86" x2="677.9" y2="256.7" stroke="#e22a3a" stroke-width="1.7" stroke-linecap="round"/>
<line x1="677.9" y1="256.7" x2="660.5" y2="253.9" stroke="#e22a3a" stroke-width="1.7" stroke-linecap="round"/>
<line x1="651" y1="270.4" x2="664.1" y2="283.6" stroke="#e22a3a" stroke-width="1.7" stroke-linecap="round"/>
<line x1="678.97" y1="257.68" x2="688.9" y2="246.9" stroke="#141414" stroke-width="1.7" stroke-linecap="round"/>
<line x1="676.83" y1="255.72" x2="686.77" y2="244.93" stroke="#141414" stroke-width="1.7" stroke-linecap="round"/>
<text transform="translate(687.43 246.3) scale(1 1.01)" font-size="11.5" fill="#141414" stroke="#141414" stroke-width="0.22">O</text>
<text transform="translate(676.23 280) scale(1 1.01)" font-size="11.5" fill="#e22a3a" stroke="#e22a3a" stroke-width="0.22">O</text>
<line x1="660.5" y1="253.9" x2="651" y2="270.4" stroke="#e22a3a" stroke-width="1.7" stroke-linecap="round"/>
<line x1="657.15" y1="254.31" x2="649.67" y2="267.3" stroke="#141414" stroke-width="1.7" stroke-linecap="round"/>
<line x1="651" y1="270.4" x2="631.96" y2="270.42" stroke="#141414" stroke-width="1.7" stroke-linecap="round"/>
<line x1="631.96" y1="270.42" x2="622.42" y2="253.95" stroke="#141414" stroke-width="1.7" stroke-linecap="round"/>
<line x1="633.28" y1="267.32" x2="625.77" y2="254.35" stroke="#141414" stroke-width="1.7" stroke-linecap="round"/>
<line x1="622.42" y1="253.95" x2="631.92" y2="237.45" stroke="#141414" stroke-width="1.7" stroke-linecap="round"/>
<line x1="631.92" y1="237.45" x2="650.96" y2="237.42" stroke="#141414" stroke-width="1.7" stroke-linecap="round"/>
<line x1="633.95" y1="240.14" x2="648.94" y2="240.13" stroke="#141414" stroke-width="1.7" stroke-linecap="round"/>
<line x1="650.96" y1="237.42" x2="660.5" y2="253.9" stroke="#141414" stroke-width="1.7" stroke-linecap="round"/>
<circle cx="689.6" cy="268.2" r="3.1" fill="none" stroke="#6a9fd6" stroke-width="0.8"/>
<line x1="687.89" y1="268.2" x2="691.31" y2="268.2" stroke="#6a9fd6" stroke-width="0.8"/>
<line x1="75.32" y1="453.65" x2="92" y2="444.3" stroke="#e22a3a" stroke-width="1.7" stroke-linecap="round"/>
<line x1="78.63" y1="455.02" x2="91.57" y2="447.77" stroke="#e22a3a" stroke-width="1.7" stroke-linecap="round"/>
<line x1="92" y1="444.3" x2="108.68" y2="453.65" stroke="#141414" stroke-width="1.7" stroke-linecap="round"/>
<line x1="108.68" y1="453.65" x2="108.68" y2="472.35" stroke="#141414" stroke-width="1.7" stroke-linecap="round"/>
<line x1="105.8" y1="455.75" x2="105.8" y2="470.25" stroke="#141414" stroke-width="1.7" stroke-linecap="round"/>
<line x1="108.68" y1="472.35" x2="92" y2="481.7" stroke="#141414" stroke-width="1.7" stroke-linecap="round"/>
<line x1="92" y1="481.7" x2="75.32" y2="472.35" stroke="#141414" stroke-width="1.7" stroke-linecap="round"/>
<line x1="91.57" y1="478.23" x2="78.63" y2="470.98" stroke="#141414" stroke-width="1.7" stroke-linecap="round"/>
<line x1="75.32" y1="472.35" x2="75.32" y2="453.65" stroke="#141414" stroke-width="1.7" stroke-linecap="round"/>
<line x1="75.32" y1="453.65" x2="58.64" y2="444.3" stroke="#e22a3a" stroke-width="1.7" stroke-linecap="round"/>
<line x1="41.96" y1="453.65" x2="58.64" y2="444.3" stroke="#e22a3a" stroke-width="1.7" stroke-linecap="round"/>
<line x1="44.74" y1="455.32" x2="58.74" y2="447.47" stroke="#e22a3a" stroke-width="1.7" stroke-linecap="round"/>
<line x1="41.96" y1="453.65" x2="25.28" y2="444.3" stroke="#e22a3a" stroke-width="1.7" stroke-linecap="round"/>
<line x1="26.67" y1="444.3" x2="26.67" y2="431.6" stroke="#e22a3a" stroke-width="1.7" stroke-linecap="round"/>
<line x1="23.89" y1="444.3" x2="23.89" y2="431.6" stroke="#e22a3a" stroke-width="1.7" stroke-linecap="round"/>
<line x1="25.28" y1="444.3" x2="13.41" y2="450.95" stroke="#e22a3a" stroke-width="1.7" stroke-linecap="round"/>
<text transform="translate(21.19 427.71) scale(1 1.01)" font-size="11.8" fill="#e22a3a" stroke="#e22a3a" stroke-width="0.22">O</text>
<text transform="translate(5.54 455.76) scale(1 1.01)" font-size="11.8" fill="#141414" stroke="#141414" stroke-width="0.22">R</text>
<line x1="92" y1="444.3" x2="92" y2="429.8" stroke="#e22a3a" stroke-width="1.7" stroke-linecap="round"/>
<text transform="translate(87.74 427.51) scale(1 1.01)" font-size="11.8" fill="#e22a3a" stroke="#e22a3a" stroke-width="0.22">CHO</text>
<line x1="75.32" y1="472.35" x2="63.46" y2="479" stroke="#141414" stroke-width="1.7" stroke-linecap="round"/>
<line x1="108.68" y1="472.35" x2="120.54" y2="479" stroke="#141414" stroke-width="1.7" stroke-linecap="round"/>
<text transform="translate(35.96 485.81) scale(1 1.01)" font-size="11.8" fill="#141414" stroke="#141414" stroke-width="0.22">MeO</text>
<text transform="translate(121.57 485.81) scale(1 1.01)" font-size="11.8" fill="#141414" stroke="#141414" stroke-width="0.22">OMe</text>
<text transform="translate(23 529.5) scale(1 1.01)" font-size="12" fill="#141414" stroke="#141414" stroke-width="0.22">nonfluorescent</text>
<path d="M155.8 452.8 H192.1 L184.3 448.5" fill="none" stroke="#141414" stroke-width="1.4"/>
<path d="M192.1 452.8 L183.5 448.3 L185.6 452.8 Z" fill="#141414"/>
<path d="M192.1 456.2 H155.5 L163.3 460.5" fill="none" stroke="#141414" stroke-width="1.4"/>
<path d="M155.5 456.2 L164.1 460.7 L162 456.2 Z" fill="#141414"/>
<text transform="translate(164.1 445.8) scale(1 1.01)" font-size="12" fill="#141414" stroke="#141414" stroke-width="0.22">H<tspan font-size="6.6" font-weight="bold" dx="0.2" dy="0.2">2</tspan><tspan dx="0.3" dy="-0.2">S</tspan></text>
<line x1="275.77" y1="452.9" x2="292" y2="443.8" stroke="#e22a3a" stroke-width="1.7" stroke-linecap="round"/>
<line x1="279.08" y1="454.27" x2="291.57" y2="447.27" stroke="#e22a3a" stroke-width="1.7" stroke-linecap="round"/>
<line x1="292" y1="443.8" x2="308.23" y2="452.9" stroke="#141414" stroke-width="1.7" stroke-linecap="round"/>
<line x1="308.23" y1="452.9" x2="308.23" y2="471.1" stroke="#141414" stroke-width="1.7" stroke-linecap="round"/>
<line x1="305.35" y1="455" x2="305.35" y2="469" stroke="#141414" stroke-width="1.7" stroke-linecap="round"/>
<line x1="308.23" y1="471.1" x2="292" y2="480.2" stroke="#141414" stroke-width="1.7" stroke-linecap="round"/>
<line x1="292" y1="480.2" x2="275.77" y2="471.1" stroke="#141414" stroke-width="1.7" stroke-linecap="round"/>
<line x1="291.57" y1="476.73" x2="279.08" y2="469.73" stroke="#141414" stroke-width="1.7" stroke-linecap="round"/>
<line x1="275.77" y1="471.1" x2="275.77" y2="452.9" stroke="#141414" stroke-width="1.7" stroke-linecap="round"/>
<line x1="275.77" y1="452.9" x2="259.53" y2="443.8" stroke="#e22a3a" stroke-width="1.7" stroke-linecap="round"/>
<line x1="243.3" y1="452.9" x2="259.53" y2="443.8" stroke="#e22a3a" stroke-width="1.7" stroke-linecap="round"/>
<line x1="246.08" y1="454.57" x2="259.63" y2="446.97" stroke="#e22a3a" stroke-width="1.7" stroke-linecap="round"/>
<line x1="243.3" y1="452.9" x2="227.06" y2="443.8" stroke="#e22a3a" stroke-width="1.7" stroke-linecap="round"/>
<line x1="228.45" y1="443.8" x2="228.45" y2="430.1" stroke="#e22a3a" stroke-width="1.7" stroke-linecap="round"/>
<line x1="225.67" y1="443.8" x2="225.67" y2="430.1" stroke="#e22a3a" stroke-width="1.7" stroke-linecap="round"/>
<line x1="227.06" y1="443.8" x2="215.64" y2="450.2" stroke="#141414" stroke-width="1.7" stroke-linecap="round"/>
<text transform="translate(223.07 427.51) scale(1 1.01)" font-size="11.8" fill="#e22a3a" stroke="#e22a3a" stroke-width="0.22">O</text>
<text transform="translate(208.27 454.81) scale(1 1.01)" font-size="11.8" fill="#141414" stroke="#141414" stroke-width="0.22">R</text>
<line x1="292" y1="443.8" x2="292" y2="429.5" stroke="#e22a3a" stroke-width="1.7" stroke-linecap="round"/>
<line x1="292" y1="429.5" x2="282.97" y2="422.65" stroke="#e22a3a" stroke-width="1.7" stroke-linecap="round"/>
<line x1="292" y1="429.5" x2="303.67" y2="421.73" stroke="#e22a3a" stroke-width="1.7" stroke-linecap="round"/>
<text transform="translate(264.92 422.51) scale(1 1.01)" font-size="11.8" fill="#e22a3a" stroke="#e22a3a" stroke-width="0.22">HS</text>
<text transform="translate(304.1 422.51) scale(1 1.01)" font-size="11.8" fill="#e22a3a" stroke="#e22a3a" stroke-width="0.22">O</text>
<circle cx="322.1" cy="407.4" r="3.1" fill="none" stroke="#6a9fd6" stroke-width="0.8"/>
<line x1="320.4" y1="407.4" x2="323.81" y2="407.4" stroke="#6a9fd6" stroke-width="0.8"/>
<line x1="275.77" y1="471.1" x2="264.35" y2="477.5" stroke="#141414" stroke-width="1.7" stroke-linecap="round"/>
<line x1="308.23" y1="471.1" x2="319.65" y2="477.5" stroke="#141414" stroke-width="1.7" stroke-linecap="round"/>
<text transform="translate(237.65 484.31) scale(1 1.01)" font-size="11.8" fill="#141414" stroke="#141414" stroke-width="0.22">MeO</text>
<text transform="translate(321.58 484.31) scale(1 1.01)" font-size="11.8" fill="#141414" stroke="#141414" stroke-width="0.22">OMe</text>
<path d="M224 437.8 C214.5 431 215 421.5 221.2 417.8" fill="none" stroke="#7a9fca" stroke-width="1.3" stroke-linecap="round"/>
<path d="M222.23 417.19 L219.12 421.72 L219.22 418.98 L216.76 417.77 Z" fill="#7a9fca"/>
<path d="M254 445.8 C250 437.5 240.5 437.5 237.9 445.2" fill="none" stroke="#7a9fca" stroke-width="1.3" stroke-linecap="round"/>
<path d="M237.52 446.34 L236.94 440.86 L238.64 443.02 L241.29 442.34 Z" fill="#7a9fca"/>
<path d="M318.2 405.7 C308 400.5 296.5 408 295.3 423.2" fill="none" stroke="#7a9fca" stroke-width="1.3" stroke-linecap="round"/>
<path d="M295.21 424.4 L293.31 419.23 L295.48 420.91 L297.89 419.59 Z" fill="#7a9fca"/>
<path d="M284.2 428.7 C273 429 264.5 435 262 442.5" fill="none" stroke="#7a9fca" stroke-width="1.3" stroke-linecap="round"/>
<path d="M261.62 443.64 L261.02 438.17 L262.73 440.32 L265.38 439.62 Z" fill="#7a9fca"/>
<line x1="343.2" y1="453.8" x2="376.52" y2="453.8" stroke="#141414" stroke-width="1.8"/>
<path d="M381.2 453.8 L373.4 450.6 L374.18 453.8 L373.4 457 Z" fill="#141414"/>
<line x1="476.01" y1="454.8" x2="494.2" y2="444.3" stroke="#141414" stroke-width="1.7" stroke-linecap="round"/>
<line x1="479.46" y1="456.27" x2="493.75" y2="448.02" stroke="#141414" stroke-width="1.7" stroke-linecap="round"/>
<line x1="494.2" y1="444.3" x2="512.39" y2="454.8" stroke="#141414" stroke-width="1.7" stroke-linecap="round"/>
<line x1="512.39" y1="454.8" x2="512.39" y2="475.8" stroke="#141414" stroke-width="1.7" stroke-linecap="round"/>
<line x1="509.39" y1="457.05" x2="509.39" y2="473.55" stroke="#141414" stroke-width="1.7" stroke-linecap="round"/>
<line x1="512.39" y1="475.8" x2="494.2" y2="486.3" stroke="#141414" stroke-width="1.7" stroke-linecap="round"/>
<line x1="494.2" y1="486.3" x2="476.01" y2="475.8" stroke="#141414" stroke-width="1.7" stroke-linecap="round"/>
<line x1="493.75" y1="482.58" x2="479.46" y2="474.33" stroke="#141414" stroke-width="1.7" stroke-linecap="round"/>
<line x1="476.01" y1="475.8" x2="476.01" y2="454.8" stroke="#e22a3a" stroke-width="1.7" stroke-linecap="round"/>
<line x1="476.01" y1="454.8" x2="457.83" y2="444.3" stroke="#e22a3a" stroke-width="1.7" stroke-linecap="round"/>
<line x1="439.64" y1="454.8" x2="457.83" y2="444.3" stroke="#e22a3a" stroke-width="1.7" stroke-linecap="round"/>
<line x1="421.45" y1="444.3" x2="439.64" y2="454.8" stroke="#e22a3a" stroke-width="1.7" stroke-linecap="round"/>
<line x1="424.25" y1="442.45" x2="439.84" y2="451.45" stroke="#e22a3a" stroke-width="1.7" stroke-linecap="round"/>
<line x1="421.45" y1="444.3" x2="421.45" y2="429.3" stroke="#e22a3a" stroke-width="1.7" stroke-linecap="round"/>
<line x1="421.45" y1="444.3" x2="407.94" y2="452.1" stroke="#e22a3a" stroke-width="1.7" stroke-linecap="round"/>
<line x1="457.83" y1="444.3" x2="457.83" y2="429.3" stroke="#e22a3a" stroke-width="1.7" stroke-linecap="round"/>
<text transform="translate(416.86 427.41) scale(1 1.01)" font-size="11.8" fill="#e22a3a" stroke="#e22a3a" stroke-width="0.22">O</text>
<text transform="translate(399.31 456.91) scale(1 1.01)" font-size="11.8" fill="#141414" stroke="#141414" stroke-width="0.22">R</text>
<text transform="translate(453.19 427.41) scale(1 1.01)" font-size="11.8" fill="#e22a3a" stroke="#e22a3a" stroke-width="0.22">SH</text>
<circle cx="433.4" cy="413.7" r="3.1" fill="none" stroke="#6a9fd6" stroke-width="0.8"/>
<line x1="431.69" y1="413.7" x2="435.1" y2="413.7" stroke="#6a9fd6" stroke-width="0.8"/>
<line x1="476.01" y1="475.8" x2="457.83" y2="486.3" stroke="#e22a3a" stroke-width="1.7" stroke-linecap="round"/>
<line x1="457.83" y1="486.3" x2="449.51" y2="481.5" stroke="#e22a3a" stroke-width="1.7" stroke-linecap="round"/>
<line x1="456.38" y1="486.3" x2="456.38" y2="501.3" stroke="#e22a3a" stroke-width="1.7" stroke-linecap="round"/>
<line x1="459.28" y1="486.3" x2="459.28" y2="501.3" stroke="#e22a3a" stroke-width="1.7" stroke-linecap="round"/>
<text transform="translate(434.38 479.31) scale(1 1.01)" font-size="11.8" fill="#e22a3a" stroke="#e22a3a" stroke-width="0.22">H</text>
<text transform="translate(453.24 510.41) scale(1 1.01)" font-size="11.8" fill="#e22a3a" stroke="#e22a3a" stroke-width="0.22">O</text>
<line x1="494.2" y1="444.3" x2="494.2" y2="431.1" stroke="#141414" stroke-width="1.7" stroke-linecap="round"/>
<line x1="512.39" y1="475.8" x2="526.42" y2="483.9" stroke="#141414" stroke-width="1.7" stroke-linecap="round"/>
<text transform="translate(491.31 427.71) scale(1 1.01)" font-size="11.8" fill="#141414" stroke="#141414" stroke-width="0.22">OMe</text>
<text transform="translate(528.58 491.91) scale(1 1.01)" font-size="11.8" fill="#141414" stroke="#141414" stroke-width="0.22">OMe</text>
<path d="M438.3 420.6 C439 430 433 436 425.3 437.2" fill="none" stroke="#7a9fca" stroke-width="1.3" stroke-linecap="round"/>
<path d="M424.11 437.38 L428.7 434.34 L427.57 436.85 L429.41 438.89 Z" fill="#7a9fca"/>
<path d="M436.2 458.5 C445 462 450 469 451 477.5" fill="none" stroke="#7a9fca" stroke-width="1.3" stroke-linecap="round"/>
<path d="M451.14 478.69 L448.27 473.99 L450.73 475.22 L452.84 473.46 Z" fill="#7a9fca"/>
<line x1="553.8" y1="455.3" x2="586.42" y2="455.3" stroke="#141414" stroke-width="1.8"/>
<path d="M591.1 455.3 L583.3 452.1 L584.08 455.3 L583.3 458.5 Z" fill="#141414"/>
<line x1="682.07" y1="451.5" x2="674.9" y2="472.3" stroke="#e22a3a" stroke-width="1.7" stroke-linecap="round"/>
<line x1="684.17" y1="454.6" x2="678.47" y2="471.15" stroke="#e22a3a" stroke-width="1.7" stroke-linecap="round"/>
<line x1="674.9" y1="472.3" x2="652.91" y2="471.91" stroke="#e22a3a" stroke-width="1.7" stroke-linecap="round"/>
<line x1="652.91" y1="471.91" x2="646.48" y2="450.88" stroke="#e22a3a" stroke-width="1.7" stroke-linecap="round"/>
<line x1="646.48" y1="450.88" x2="664.5" y2="438.26" stroke="#e22a3a" stroke-width="1.7" stroke-linecap="round"/>
<line x1="664.5" y1="438.26" x2="682.07" y2="451.5" stroke="#e22a3a" stroke-width="1.7" stroke-linecap="round"/>
<line x1="674.9" y1="472.3" x2="689.34" y2="488.9" stroke="#141414" stroke-width="1.7" stroke-linecap="round"/>
<line x1="689.34" y1="488.9" x2="710.93" y2="484.7" stroke="#141414" stroke-width="1.7" stroke-linecap="round"/>
<line x1="690.97" y1="485.53" x2="708.15" y2="482.19" stroke="#141414" stroke-width="1.7" stroke-linecap="round"/>
<line x1="710.93" y1="484.7" x2="718.1" y2="463.9" stroke="#141414" stroke-width="1.7" stroke-linecap="round"/>
<line x1="718.1" y1="463.9" x2="703.66" y2="447.3" stroke="#141414" stroke-width="1.7" stroke-linecap="round"/>
<line x1="714.36" y1="464.17" x2="702.87" y2="450.96" stroke="#141414" stroke-width="1.7" stroke-linecap="round"/>
<line x1="703.66" y1="447.3" x2="682.07" y2="451.5" stroke="#141414" stroke-width="1.7" stroke-linecap="round"/>
<line x1="664.5" y1="438.26" x2="664.07" y2="421.05" stroke="#e22a3a" stroke-width="1.7" stroke-linecap="round"/>
<line x1="652.91" y1="471.91" x2="642.48" y2="485.22" stroke="#e22a3a" stroke-width="1.7" stroke-linecap="round"/>
<text transform="translate(659.63 417.54) scale(1 1.01)" font-size="11.9" fill="#e22a3a" stroke="#e22a3a" stroke-width="0.22">SH</text>
<text transform="translate(621.78 493.14) scale(1 1.01)" font-size="11.9" fill="#e22a3a" stroke="#e22a3a" stroke-width="0.22">HO</text>
<line x1="626.23" y1="443.06" x2="622.87" y2="423.37" stroke="#e22a3a" stroke-width="1.7" stroke-linecap="round"/>
<line x1="623.37" y1="443.54" x2="620.01" y2="423.86" stroke="#e22a3a" stroke-width="1.7" stroke-linecap="round"/>
<line x1="646.48" y1="450.88" x2="624.8" y2="443.3" stroke="#e22a3a" stroke-width="1.7" stroke-linecap="round"/>
<line x1="624.8" y1="443.3" x2="610.24" y2="452.1" stroke="#141414" stroke-width="1.7" stroke-linecap="round"/>
<text transform="translate(615.77 421.64) scale(1 1.01)" font-size="11.9" fill="#e22a3a" stroke="#e22a3a" stroke-width="0.22">O</text>
<text transform="translate(600.8 459.34) scale(1 1.01)" font-size="11.9" fill="#141414" stroke="#141414" stroke-width="0.22">R</text>
<line x1="703.66" y1="447.3" x2="710.35" y2="430.18" stroke="#141414" stroke-width="1.7" stroke-linecap="round"/>
<line x1="710.93" y1="484.7" x2="722.32" y2="499.23" stroke="#141414" stroke-width="1.7" stroke-linecap="round"/>
<text transform="translate(709.37 427.54) scale(1 1.01)" font-size="11.9" fill="#141414" stroke="#141414" stroke-width="0.22">OMe</text>
<text transform="translate(722.47 507.44) scale(1 1.01)" font-size="11.9" fill="#141414" stroke="#141414" stroke-width="0.22">OMe</text>
<text transform="translate(640.9 529.8) scale(1 1.01)" font-size="12" fill="#141414" stroke="#141414" stroke-width="0.22">fluorescent</text>
</svg>
</body>
</html>
